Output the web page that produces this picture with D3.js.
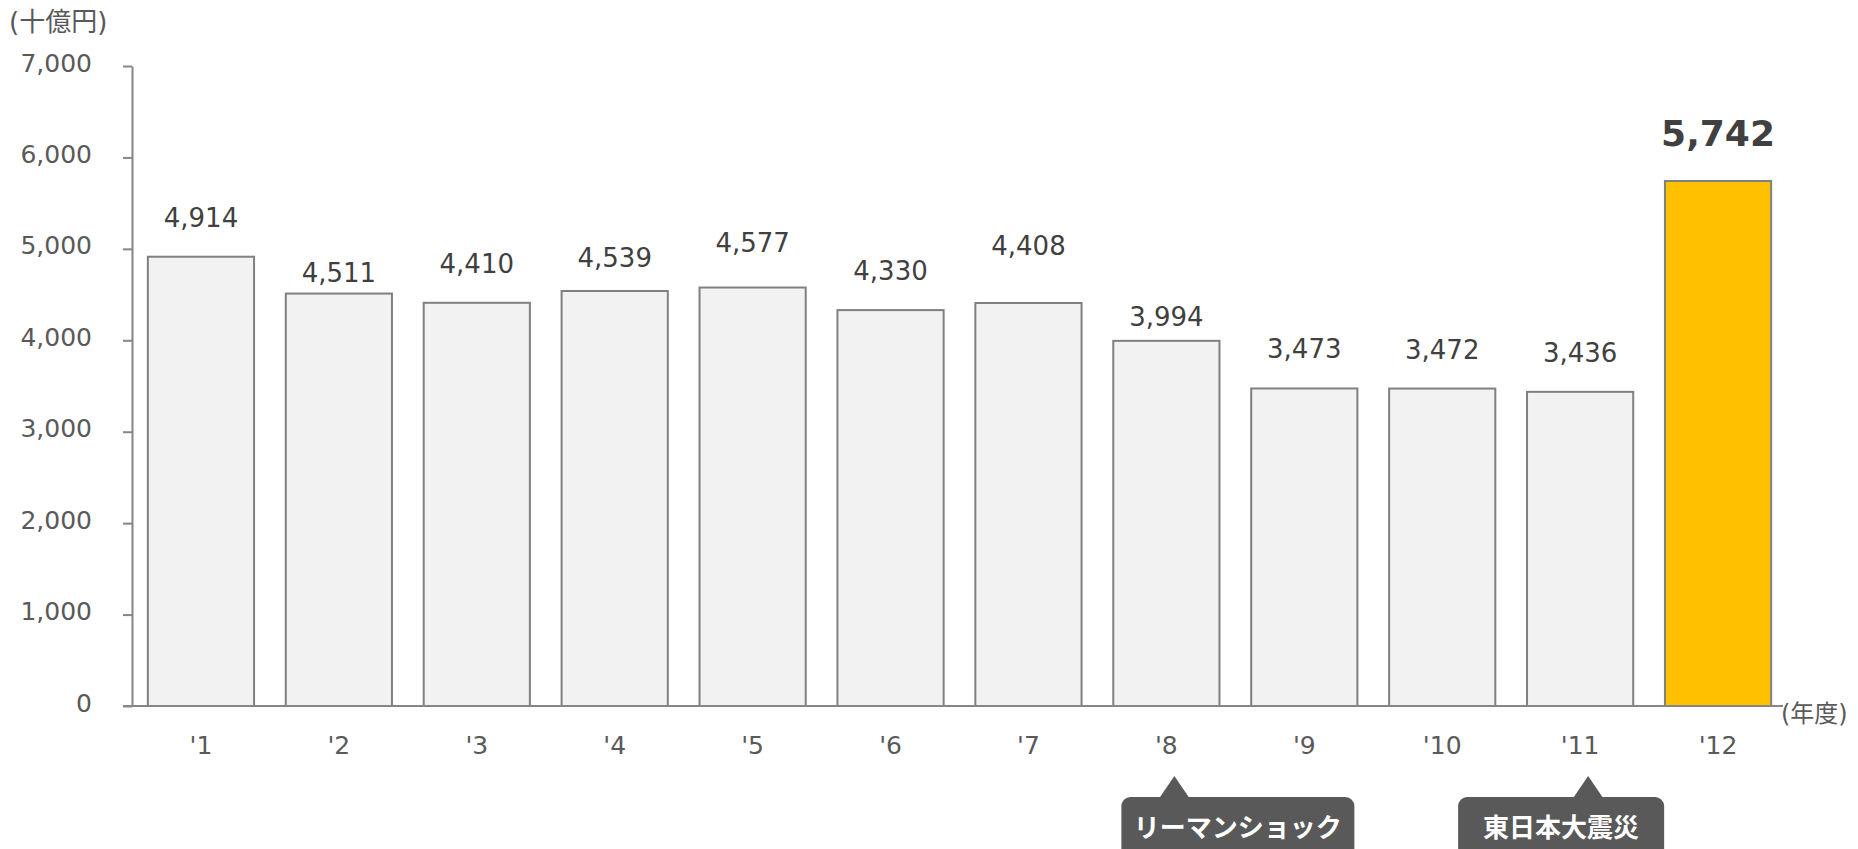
<!DOCTYPE html>
<html>
<head>
<meta charset="utf-8">
<script src="https://cdn.jsdelivr.net/npm/d3@7"></script>
<style>
  html, body { margin: 0; padding: 0; background: #fff; }
  svg { display: block; }
  text { font-family: "DejaVu Sans", "Noto Sans CJK JP", sans-serif; }
</style>
</head>
<body>
<svg id="chart" width="1858" height="849"></svg>
<script>
// ---- data ----
const categories = ["'1", "'2", "'3", "'4", "'5", "'6", "'7", "'8", "'9", "'10", "'11", "'12"];
const values = [4914, 4511, 4410, 4539, 4577, 4330, 4408, 3994, 3473, 3472, 3436, 5742];
const yTicks = [0, 1000, 2000, 3000, 4000, 5000, 6000, 7000];
const highlightCategory = "'12";
const annotationYears = ["'8", "'11"];
const annotationTexts = ["リーマンショック", "東日本大震災"];
const yUnitLabel = "(十億円)";
const xUnitLabel = "(年度)";

// ---- layout (styling, not data) ----
const labelLift = [30, 12, 30, 24, 36, 30, 48, 15, 30, 30, 30, 35];
const annBox = [{left: -45, right: 188}, {left: -122, right: 84}];

const svg = d3.select("#chart");
const x = d3.scaleBand().domain(categories).range([132, 1787]).paddingInner(0.23).paddingOuter(0.115);
const y = d3.scaleLinear().domain([0, 7000]).range([706, 66]);

const axisColor = "#868686";
const textColor = "#595959";
const valueColor = "#404040";

// bars
svg.append("g").selectAll("rect").data(categories).join("rect")
  .attr("x", d => x(d))
  .attr("y", (d, i) => y(values[i]))
  .attr("width", x.bandwidth())
  .attr("height", (d, i) => y(0) - y(values[i]))
  .attr("fill", d => d === highlightCategory ? "#FFC000" : "#F2F2F2")
  .attr("stroke", "#808080")
  .attr("stroke-width", 2);

// y axis
const yAxis = svg.append("g").attr("transform", "translate(132,0)")
  .call(d3.axisLeft(y).tickValues(yTicks).tickSize(9).tickSizeOuter(0).tickPadding(31)
        .tickFormat(d3.format(",")));
yAxis.selectAll("path, line").attr("stroke", axisColor).attr("stroke-width", 2);
yAxis.selectAll("text").attr("fill", textColor).attr("font-size", 25)
  .attr("font-family", "DejaVu Sans").attr("dy", "0.2em");

// x axis
const xAxis = svg.append("g").attr("transform", `translate(0,${y(0)})`)
  .call(d3.axisBottom(x).tickSize(0).tickPadding(30));
xAxis.select(".domain").remove();
xAxis.selectAll("text").attr("fill", textColor).attr("font-size", 25).attr("font-family", "DejaVu Sans");
svg.append("line")
  .attr("x1", 123).attr("x2", x.range()[1] - 4)
  .attr("y1", y(0)).attr("y2", y(0))
  .attr("stroke", axisColor).attr("stroke-width", 2);

// value labels
svg.append("g").selectAll("text").data(categories).join("text")
  .attr("x", d => x(d) + x.bandwidth() / 2)
  .attr("y", (d, i) => y(values[i]) - labelLift[i])
  .attr("text-anchor", "middle")
  .attr("fill", valueColor)
  .attr("font-size", d => d === highlightCategory ? 36 : 26)
  .attr("font-weight", d => d === highlightCategory ? "bold" : "normal")
  .text((d, i) => d3.format(",")(values[i]));

// unit labels
svg.append("text").attr("x", 9).attr("y", 22).attr("dominant-baseline", "central")
  .attr("fill", textColor).attr("font-size", 26).text(yUnitLabel);
svg.append("text").attr("x", 1781).attr("y", 714).attr("dominant-baseline", "central")
  .attr("fill", textColor).attr("font-size", 24).text(xUnitLabel);

// annotations
annotationYears.forEach((yr, i) => {
  const cx = x(yr) + x.bandwidth() / 2;
  const apex = cx + 8;
  const top = 797;
  const g = svg.append("g");
  g.append("rect")
    .attr("x", cx + annBox[i].left).attr("y", top)
    .attr("width", annBox[i].right - annBox[i].left).attr("height", 80)
    .attr("rx", 9).attr("fill", "#595959");
  g.append("path")
    .attr("d", `M${apex - 15},${top + 1}L${apex},${776}L${apex + 15},${top + 1}Z`)
    .attr("fill", "#595959");
  g.append("text")
    .attr("x", cx + (annBox[i].left + annBox[i].right) / 2)
    .attr("y", 828)
    .attr("dominant-baseline", "central")
    .attr("text-anchor", "middle")
    .attr("fill", "#ffffff")
    .attr("font-size", 26)
    .attr("font-weight", "bold")
    .attr("font-family", "Noto Sans CJK JP")
    .text(annotationTexts[i]);
});
</script>
</body>
</html>
